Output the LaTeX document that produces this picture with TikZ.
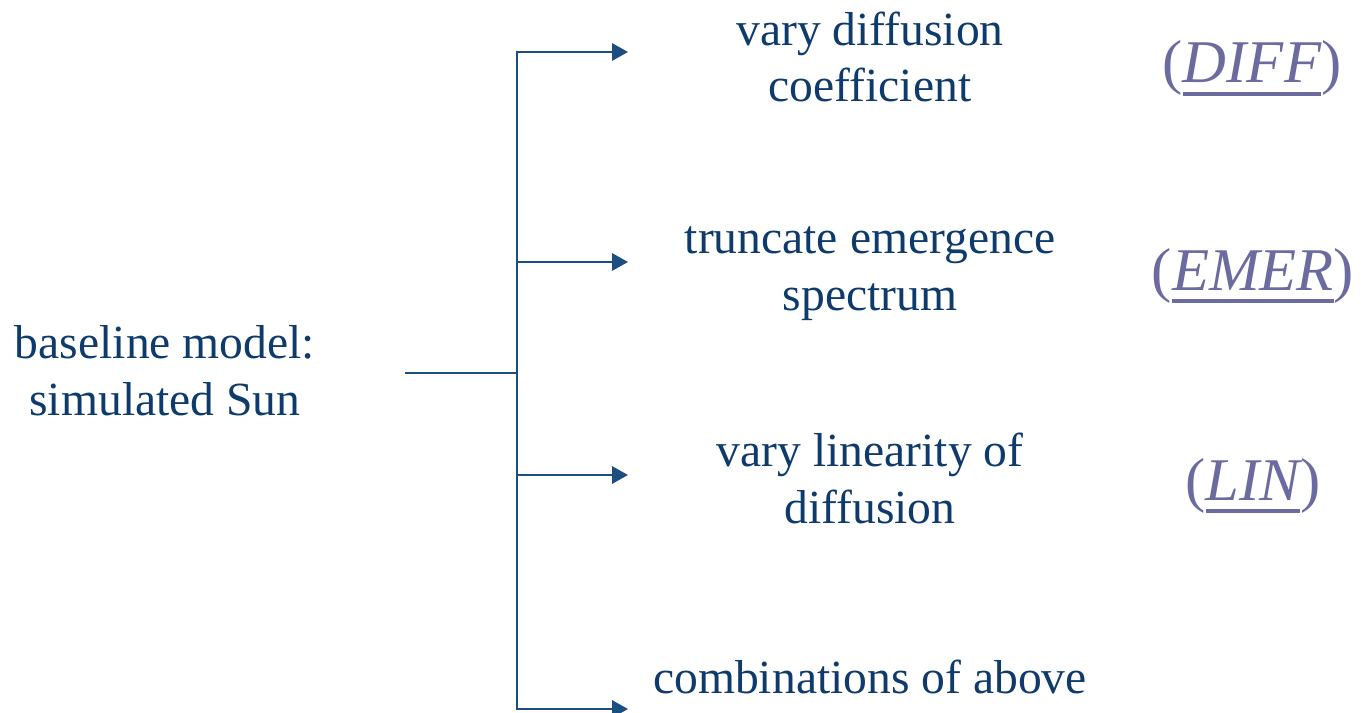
\documentclass[tikz,border=0pt]{standalone}
\usepackage{fontspec}
\setmainfont{Liberation Serif}
\usetikzlibrary{arrows.meta}
\definecolor{txtnavy}{HTML}{0E3A6C}
\definecolor{linecol}{HTML}{1B4F82}
\definecolor{labcol}{HTML}{6B6BA0}
\newcommand{\myul}[1]{\setbox0\hbox{\itshape #1}\rlap{\rule[-9.5pt]{\wd0}{3pt}}\box0}
\begin{document}
\begin{tikzpicture}[x=0.75pt,y=-0.75pt,
  main/.style={font=\fontsize{35.7}{42.5}\selectfont, text=txtnavy, align=center, inner sep=0pt, anchor=base},
  lab/.style={font=\fontsize{45.5}{50}\selectfont, text=labcol, inner sep=0pt, anchor=base},
  conn/.style={draw=linecol, line width=1.7pt},
  arr/.style={conn, -{Triangle[length=12pt,width=13pt]}}]
\useasboundingbox (0,0) rectangle (1364,713);
\node[main] (base) at (165,415) {baseline model:\\simulated Sun};
\node[main] (n1) at (870,102) {vary diffusion\\coefficient};
\node[main] (n2) at (870,310) {truncate emergence\\spectrum};
\node[main] (n3) at (870,523) {vary linearity of\\diffusion};
\node[main] (n4) at (870,693) {combinations of above};
\node[lab] (l1) at (1252,83) {(\myul{DIFF})};
\node[lab] (l2) at (1253,290) {(\myul{EMER})};
\node[lab] (l3) at (1253,500) {(\myul{LIN})};
\coordinate (s) at (405,373);
\coordinate (j) at (517,373);
\coordinate (t) at (517,52);
\coordinate (j2) at (517,262);
\coordinate (j3) at (517,475);
\coordinate (b) at (517,709);
\coordinate (e1) at (628,52);
\coordinate (e2) at (628,262);
\coordinate (e3) at (628,475);
\coordinate (e4) at (628,709);
\draw[conn] (s) -- (j);
\draw[arr] (j) -- (t) -- (e1);
\draw[arr] (j) -- (b) -- (e4);
\draw[arr] (j2) -- (e2);
\draw[arr] (j3) -- (e3);
\end{tikzpicture}
\end{document}
